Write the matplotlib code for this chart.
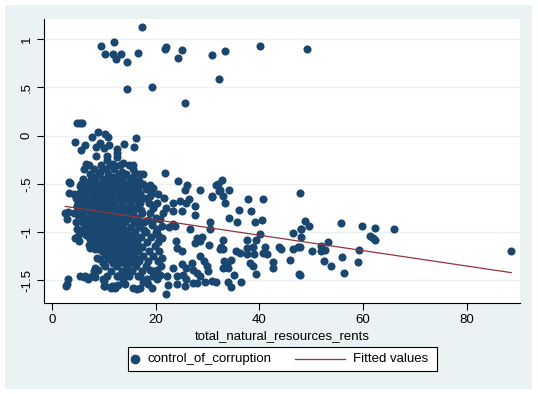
import numpy as np
import matplotlib.pyplot as plt
from matplotlib.patches import Rectangle
from matplotlib.lines import Line2D

plt.rcParams['font.family'] = ['Liberation Sans', 'DejaVu Sans']

# points: upper group
top_x = [9.5, 10.2, 12.0, 11.7, 12.3, 13.2, 14.4, 14.4, 16.5, 17.4, 19.2, 21.7, 21.9,
         24.3, 25.0, 25.7, 30.8, 32.2, 33.3, 40.1, 49.2]
top_y = [0.93, 0.85, 0.97, 0.85, 0.80, 0.85, 0.76, 0.48, 0.86, 1.13, 0.50, 0.90, 0.92,
         0.81, 0.89, 0.34, 0.84, 0.59, 0.88, 0.93, 0.90]

# points around 0 to -0.6
mid_x = [4.8, 5.3, 5.8, 4.4, 5.5, 6.4, 7.6, 8.8, 10.1, 10.8, 9.2, 8.4, 10.0, 11.0, 12.4,
         12.4, 13.8, 16.1, 15.8, 8.4, 10.5, 10.5, 12.5, 6.6, 11.8, 13.6, 15.6, 16.0, 17.5,
         16.8, 18.9, 19.4, 21.8, 24.3, 26.1, 25.7, 28.5, 30.8, 31.7, 32.7, 32.2, 34.2, 3.3,
         3.2, 4.2, 37.8, 40.7, 47.8]
mid_y = [0.13, 0.13, 0.13, -0.07, -0.15, -0.10, -0.01, 0.04, 0.02, -0.01, -0.08, -0.12,
         -0.13, -0.10, -0.14, -0.18, -0.09, -0.02, -0.12, -0.21, -0.21, -0.25, -0.22, -0.29,
         -0.29, -0.28, -0.30, -0.39, -0.40, -0.47, -0.51, -0.54, -0.39, -0.47, -0.51, -0.56,
         -0.56, -0.63, -0.51, -0.46, -0.57, -0.56, -0.48, -0.59, -0.60, -0.66, -0.66, -0.59]

# points right of x = 28
right_x = [48.7, 48.1, 49.6, 48.1, 47.8, 50.2, 51.8, 51.8, 52.6, 53.3, 52.5, 53.9, 55.8,
           55.9, 56.3, 59.2, 59.1, 59.7, 61.3, 61.9, 62.4, 62.4, 66.0, 88.6, 47.8,
           32.0, 32.4, 32.9, 33.3, 30.9, 36.1, 38.4, 34.2, 35.6, 39.1, 40.4, 30.4, 30.4,
           29.0, 33.0, 30.3, 32.5, 32.4, 33.0, 37.6, 39.3, 40.1, 37.5, 38.8, 41.1, 40.7,
           41.4, 35.5, 36.2, 37.5, 38.9, 43.8, 44.2, 42.7, 42.7, 45.9, 46.5, 48.0, 46.4,
           47.5, 47.7, 29.2, 29.8, 30.1, 33.1, 33.7, 34.0, 33.0, 34.6, 35.0, 38.2, 38.8,
           39.3, 29.5, 30.9, 31.6, 34.0, 34.5, 36.4, 28.5]
right_y = [-0.88, -0.97, -0.94, -1.05, -1.15, -1.20, -1.14, -1.20, -1.19, -1.10, -1.30,
           -1.35, -0.91, -1.26, -1.42, -1.19, -1.31, -0.94, -1.04, -1.06, -1.08, -0.96,
           -0.97, -1.20, -1.44,
           -0.50, -0.56, -0.63, -0.70, -0.64, -0.77, -0.78, -0.85, -0.90, -0.89, -0.87,
           -0.89, -0.97, -1.05, -1.08, -1.13, -1.15, -1.18, -1.17, -1.08, -1.08, -1.02,
           -1.16, -1.15, -1.15, -1.22, -1.23, -1.20, -1.22, -1.23, -1.23, -1.15, -1.17,
           -1.31, -1.37, -1.29, -1.01, -0.97, -1.18, -1.15, -1.43, -1.30, -1.35, -1.40,
           -1.30, -1.33, -1.37, -1.37, -1.29, -1.44, -1.32, -1.35, -1.43, -1.52, -1.51,
           -1.52, -1.52, -1.57, -1.52, -1.46]

# edges of the main cloud
edge_x = [2.5, 3.1, 2.8, 4.7, 5.0, 4.6, 4.8, 5.0, 5.2, 4.4, 5.7, 5.3, 3.4, 2.8, 2.6, 3.1,
          5.3, 6.3, 6.8, 7.6, 8.2, 8.9, 8.2, 7.3, 7.0, 8.2, 8.6, 9.2, 9.8, 9.8, 10.2, 11.5,
          12.1, 12.7, 12.4, 13.7, 14.0, 13.4, 14.4, 15.6, 16.3, 16.9, 17.6, 18.5, 19.2,
          16.9, 18.2, 19.5, 20.2, 20.8, 18.9, 20.2, 21.9, 22.3, 22.1, 24.0, 25.6, 25.9,
          24.0, 25.3, 23.4, 25.0, 25.9, 26.9, 27.2, 27.9, 27.1, 27.9, 23.9, 25.0, 24.0,
          23.4, 23.7, 26.6, 27.9, 27.6, 28.5, 28.5, 21.1, 20.2, 21.1, 21.4, 23.4, 24.7,
          25.9, 26.3, 27.5, 23.4, 25.0, 27.5, 8.0, 8.7, 10.0, 10.0, 11.3, 12.2, 6.1,
          19.6, 20.8, 19.9, 21.2, 18.9, 20.4, 19.3]
edge_y = [-0.80, -0.79, -0.86, -0.73, -0.70, -0.90, -0.97, -1.04, -1.09, -1.06, -0.66,
          -0.52, -0.49, -1.54, -1.56, -1.49, -1.46, -1.46, -1.49, -1.45, -1.47, -1.39,
          -1.37, -1.16, -1.13, -1.18, -1.27, -1.28, -1.32, -1.49, -1.56, -1.56, -1.58,
          -1.55, -1.46, -1.49, -1.54, -1.42, -1.39, -1.58, -1.59, -1.58, -1.52, -1.54,
          -1.58, -1.46, -1.49, -1.46, -1.49, -1.44, -1.39, -1.39, -1.64, -1.55, -1.46,
          -1.54, -1.56, -1.49, -1.46, -1.44, -1.37, -1.33, -1.37, -1.32, -1.39, -1.42,
          -1.53, -1.53, -1.09, -1.20, -1.16, -0.92, -0.94, -0.97, -1.06, -1.11, -1.09,
          -1.25, -1.06, -0.97, -0.94, -0.80, -0.70, -0.68, -0.70, -0.66, -0.73, -0.78,
          -0.78, -0.82, -1.40, -1.39, -1.51, -1.56, -1.58, -1.56, -1.47,
          -0.72, -0.86, -1.14, -1.27, -0.63, -1.03, -0.93]

# dense core, estimated row by row (x values at each corruption level)
core_rows = {
    -0.30: [7.0, 9.5, 11.2, 13.0, 14.8],
    -0.35: [6.2, 8.0, 10.3, 12.0, 15.5],
    -0.375: [9.2, 13.5],
    -0.40: [7.2, 9.0, 10.8, 12.8, 14.2, 17.0],
    -0.425: [8.0, 11.8, 15.6],
    -0.45: [6.0, 8.3, 9.8, 11.6, 13.5, 15.0],
    -0.475: [7.2, 10.8, 12.6, 16.2],
    -0.50: [5.5, 7.0, 8.8, 10.5, 12.2, 14.0, 15.5, 17.5],
    -0.525: [6.4, 8.0, 9.7, 11.4, 13.2, 14.8, 16.6],
    -0.55: [6.3, 8.0, 9.5, 11.3, 13.0, 14.8, 16.5, 18.0],
    -0.575: [5.6, 7.2, 8.8, 10.6, 12.3, 14.0, 15.8],
    -0.60: [5.0, 6.8, 8.5, 10.2, 12.0, 13.6, 15.3, 17.0, 19.0, 20.5],
    -0.625: [6.0, 7.6, 9.4, 11.2, 12.8, 14.6, 16.4],
    -0.65: [4.5, 6.0, 7.6, 9.3, 11.0, 12.8, 14.4, 16.0, 17.8, 21.5],
    -0.675: [5.0, 6.4, 8.0, 9.8, 11.6, 13.2, 14.9, 16.6],
    -0.70: [5.5, 7.0, 8.7, 10.4, 12.0, 13.5, 15.2, 17.0, 18.6, 20.2],
    -0.725: [4.8, 6.6, 8.2, 9.9, 11.6, 13.4, 15.0],
    -0.75: [6.3, 8.0, 9.6, 11.3, 13.0, 14.6, 16.2, 19.5, 22.0],
    -0.775: [5.2, 7.0, 8.8, 10.4, 12.2, 13.8, 15.4, 17.2],
    -0.80: [4.2, 5.8, 7.4, 9.0, 10.7, 12.3, 14.0, 15.6, 17.4, 18.8],
    -0.825: [5.0, 6.0, 7.8, 9.4, 11.2, 12.8, 14.6],
    -0.85: [6.6, 8.2, 10.0, 11.6, 13.3, 15.0, 16.6, 20.0],
    -0.875: [6.0, 7.4, 9.2, 10.8, 12.6, 14.3, 18.4],
    -0.90: [5.8, 7.4, 9.0, 10.6, 12.4, 14.0, 15.8, 17.8, 19.2],
    -0.925: [6.4, 8.2, 9.8, 11.6, 13.2, 16.8],
    -0.95: [6.8, 8.4, 10.0, 11.8, 13.4, 15.2, 16.8, 22.5],
    -0.975: [5.6, 7.2, 9.0, 10.8, 12.4, 14.2, 17.8],
    -1.00: [6.0, 7.6, 9.3, 11.0, 12.6, 14.3, 16.0, 18.0, 20.0],
    -1.025: [6.6, 8.2, 10.0, 11.8, 13.4, 15.2],
    -1.05: [7.0, 8.6, 10.3, 12.0, 13.6, 15.3, 17.2, 19.0],
    -1.075: [7.2, 9.0, 10.8, 12.6, 14.2, 16.0],
    -1.10: [7.8, 9.5, 11.2, 12.8, 14.6, 16.3, 18.3, 20.5],
    -1.125: [8.0, 9.8, 11.6, 13.2, 15.0],
    -1.15: [8.8, 10.5, 12.2, 13.9, 15.6, 17.4],
    -1.175: [9.0, 11.0, 12.8, 14.4, 16.2],
    -1.20: [9.6, 11.4, 13.0, 14.8, 16.6, 18.6, 20.6],
    -1.225: [10.2, 12.0, 13.8, 15.6],
    -1.25: [10.6, 12.3, 14.0, 15.8, 17.6, 19.5],
    -1.275: [11.0, 12.8, 14.6, 16.4],
    -1.30: [11.5, 13.2, 15.0, 16.8, 18.5, 20.4],
    -1.325: [11.8, 13.8, 15.6],
    -1.35: [10.2, 12.5, 14.4, 16.2, 18.0, 21.0],
    -1.40: [11.4, 13.5, 15.4, 17.4, 19.5],
    -1.45: [10.6, 12.6, 14.8, 16.6],
}
core_x = [x for y, xs in core_rows.items() for x in xs]
core_y = [y for y, xs in core_rows.items() for x in xs]

# fitted line end points
fit_x = [2.5, 88.6]
fit_y = [-0.733, -1.42]

rents = top_x + mid_x + right_x + edge_x + core_x
corruption = top_y + mid_y + right_y + edge_y + core_y

yticks = [-1.5, -1, -0.5, 0, 0.5, 1]
ytick_labels = ['-1.5', '-1', '-.5', '0', '.5', '1']
xticks = [0, 20, 40, 60, 80]

dot_color = '#1a476f'
line_color = '#90353b'
bg = '#eaf2f3'

W, H = 538, 394
fig = plt.figure(figsize=(W / 100, H / 100), dpi=100)
fig.patch.set_facecolor('white')
fig.add_artist(Rectangle((5 / W, 5 / H), 527 / W, 384 / H, transform=fig.transFigure,
                         facecolor=bg, edgecolor='none', zorder=-10))

ax = fig.add_axes([44 / W, 1 - 303 / H, 476 / W, 284 / H])
ax.set_zorder(1)
ax.set_facecolor('white')
ax.scatter(rents, corruption, s=34, color=dot_color, linewidths=0, zorder=3)
ax.plot(fit_x, fit_y, color=line_color, lw=0.9, zorder=4)

ax.set_xlim(-1.6, 90.3)
ax.set_ylim(-1.735, 1.21)
ax.set_yticks(yticks)
ax.set_yticklabels(ytick_labels, rotation=90, va='center')
ax.set_xticks(xticks)
ax.grid(axis='y', color=bg, lw=1.0)
ax.set_axisbelow(True)
for s in ['top', 'right']:
    ax.spines[s].set_visible(False)
for s in ['left', 'bottom']:
    ax.spines[s].set_linewidth(0.8)
ax.tick_params(axis='both', direction='out', length=5, width=0.8, labelsize=9.5, pad=3)
ax.set_xlabel('total_natural_resources_rents', fontsize=9.5, labelpad=3)

# legend box drawn by hand so the marker and line sit where Stata puts them
fig.add_artist(Rectangle((128 / W, 1 - 371 / H), 309 / W, 24 / H, transform=fig.transFigure,
                         facecolor='white', edgecolor='black', lw=0.8, zorder=2))
ly = 1 - 359 / H
fig.add_artist(Line2D([135 / W], [ly], marker='o', ls='none', color=dot_color,
                      markersize=6, transform=fig.transFigure, zorder=3))
fig.text(147 / W, ly, 'control_of_corruption', fontsize=9.5, va='center', ha='left', zorder=3)
fig.add_artist(Line2D([295 / W, 345 / W], [ly, ly], color=line_color, lw=0.9,
                      transform=fig.transFigure, zorder=3))
fig.text(353 / W, ly, 'Fitted values', fontsize=9.5, va='center', ha='left', zorder=3)

fig.savefig('out.png', dpi=100)
